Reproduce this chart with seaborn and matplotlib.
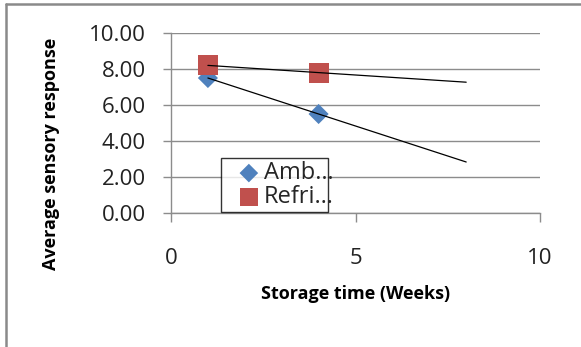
import numpy as np
import pandas as pd
import matplotlib
matplotlib.use("Agg")
import matplotlib.pyplot as plt
from matplotlib.lines import Line2D
import seaborn as sns

weeks = [1, 4]
ambient = [7.5, 5.5]
refrigerated = [8.2, 7.8]
series_names = ["Ambient", "Refrigerated"]
legend_labels = ["Amb…", "Refri…"]
trend_end = 8
y_ticks = [0, 2, 4, 6, 8, 10]
x_ticks = [0, 5, 10]

sns.set_theme(style="white")
plt.rcParams['font.family'] = ['Open Sans', 'DejaVu Sans']

df = pd.DataFrame({
    "week": weeks * 2,
    "score": ambient + refrigerated,
    "series": [series_names[0]] * len(weeks) + [series_names[1]] * len(weeks),
})

fig = plt.figure(figsize=(5.81, 3.47), dpi=100)
ax = fig.add_axes([171/581, 1-213/347, (540-171)/581, (213-33)/347])

blue = "#4F81BD"
red = "#C0504D"
grid_c = "#8C8C8C"

ax.set_xlim(0, 10)
ax.set_ylim(0, 10)
ax.set_yticks(y_ticks)
ax.set_xticks(x_ticks)
ax.yaxis.grid(True, color=grid_c, linewidth=1.0)
ax.set_axisbelow(True)

# trend lines
for vals in (ambient, refrigerated):
    coef = np.polyfit(weeks, vals, 1)
    xs = np.array([weeks[0], trend_end])
    sns.lineplot(x=xs, y=np.polyval(coef, xs), ax=ax, color="black", linewidth=0.9, zorder=4)

sub_a = df[df.series == series_names[0]]
sub_r = df[df.series == series_names[1]]
sns.scatterplot(data=sub_a, x="week", y="score", marker="D", s=105, color=blue,
                edgecolor="none", ax=ax, zorder=3, label=legend_labels[0])
sns.scatterplot(data=sub_r, x="week", y="score", marker="s", s=205, color=red,
                edgecolor="none", ax=ax, zorder=3, label=legend_labels[1])

for s in ["top", "right"]:
    ax.spines[s].set_visible(False)
ax.spines["left"].set_color(grid_c)
ax.spines["bottom"].set_color(grid_c)
ax.spines["left"].set_linewidth(1.0)
ax.spines["bottom"].set_linewidth(1.0)

ax.set_yticklabels([f"{v:.2f}" for v in y_ticks])
ax.set_xticklabels([str(v) for v in x_ticks])
ax.tick_params(axis="y", direction="out", length=6, width=1, color=grid_c, pad=12,
               labelsize=16, labelcolor="#222222", left=True)
ax.tick_params(axis="x", direction="out", length=6.5, width=1, color=grid_c, pad=19,
               labelsize=16, labelcolor="#222222", bottom=True)

ax.set_xlabel("Storage time (Weeks)", fontsize=13, fontweight="bold", labelpad=11, color="black")
ax.set_ylabel("Average sensory response", fontsize=13, fontweight="bold", color="black")
ax.yaxis.set_label_coords(-0.30, 0.33)

leg = ax.legend(loc="lower left", bbox_to_anchor=((221-171)/369, 0.005, (328-221)/369, (212-156)/180),
                mode="expand", frameon=True, fancybox=False, fontsize=17,
                handletextpad=-0.42, borderpad=0.12, labelspacing=0.0, handlelength=2.12,
                borderaxespad=0)
for h, sz in zip(leg.legend_handles, [90, 170]):
    h.set_sizes([sz])
leg.get_frame().set_edgecolor("black")
leg.get_frame().set_linewidth(1.0)

# chart frame
fig.add_artist(Line2D([6/581, 1], [1-3.5/347, 1-3.5/347], color="#8A8A8A", linewidth=1.8, transform=fig.transFigure))
fig.add_artist(Line2D([6/581, 6/581], [0, 1-3.5/347], color="#8A8A8A", linewidth=1.8, transform=fig.transFigure))

fig.savefig("out.png", dpi=100)
